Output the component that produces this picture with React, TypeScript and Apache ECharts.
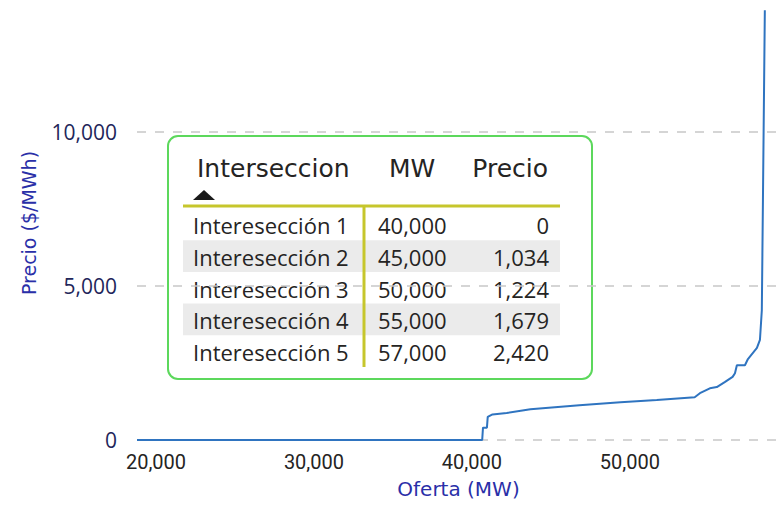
import React, { useEffect, useRef } from 'react';
import * as echarts from 'echarts';

// Supply curve (Oferta MW vs Precio $/MWh)
const supplyMW = [18800, 40650, 40700, 40950, 41000, 41300, 42200, 43700, 46800, 49400, 51700, 54100, 54430, 55060, 55500, 56000, 56500, 56650, 56770, 57280, 57470, 58040, 58230, 58350, 58420, 58540];
const supplyPrice = [0, 0, 400, 400, 750, 830, 880, 1000, 1130, 1230, 1300, 1390, 1520, 1680, 1720, 1880, 2050, 2170, 2430, 2430, 2630, 2990, 3250, 4220, 7800, 13960];

const xTickValues = [20000, 30000, 40000, 50000];

// Table
const tableHeaders = ['Interseccion', 'MW', 'Precio'];
const tableNames = ['Interesección 1', 'Interesección 2', 'Interesección 3', 'Interesección 4', 'Interesección 5'];
const tableMW = [40000, 45000, 50000, 55000, 57000];
const tablePrice = [0, 1034, 1224, 1679, 2420];

const fmt = (v: number) => v.toLocaleString('en-US');

export default function App() {
  const ref = useRef<HTMLDivElement>(null);
  useEffect(() => {
    document.body.style.margin = '0';
    const chart = echarts.init(ref.current!, null, { renderer: 'svg' });

    const rowTop = 208.5;
    const rowH = 31.7;
    const rowFont = { fontFamily: 'Open Sans', fontSize: 22, fill: '#252423' };
    const headFont = { fontFamily: 'DejaVu Sans', fontSize: 25, fill: '#252423' };

    const els: any[] = [];
    els.push({ type: 'rect', shape: { x: 168, y: 136, width: 424, height: 243, r: 10 }, style: { fill: '#ffffff', stroke: '#5cd85c', lineWidth: 2 } });
    tableNames.forEach((_, i) => {
      if (i % 2 === 1) {
        els.push({ type: 'rect', shape: { x: 183, y: rowTop + i * rowH, width: 377, height: rowH }, style: { fill: '#ebebeb' } });
      }
    });
    els.push({ type: 'text', x: 197, y: 168, style: { ...headFont, text: tableHeaders[0], align: 'left', verticalAlign: 'middle' } });
    els.push({ type: 'text', x: 389, y: 168, style: { ...headFont, text: tableHeaders[1], align: 'left', verticalAlign: 'middle' } });
    els.push({ type: 'text', x: 548, y: 168, style: { ...headFont, text: tableHeaders[2], align: 'right', verticalAlign: 'middle' } });
    els.push({ type: 'polygon', shape: { points: [[193, 200], [215, 200], [204, 190]] }, style: { fill: '#1a1a1a' } });
    els.push({ type: 'line', shape: { x1: 183, y1: 206, x2: 560, y2: 206 }, style: { stroke: '#c6c62c', lineWidth: 3 } });
    els.push({ type: 'line', shape: { x1: 364, y1: 206, x2: 364, y2: 367 }, style: { stroke: '#c6c62c', lineWidth: 3 } });
    tableNames.forEach((name, i) => {
      const cy = rowTop + i * rowH + rowH / 2 + 1;
      els.push({ type: 'text', x: 193, y: cy, style: { ...rowFont, text: name, align: 'left', verticalAlign: 'middle' } });
      els.push({ type: 'text', x: 378, y: cy, style: { ...rowFont, text: fmt(tableMW[i]), align: 'left', verticalAlign: 'middle' } });
      els.push({ type: 'text', x: 549, y: cy, style: { ...rowFont, text: fmt(tablePrice[i]), align: 'right', verticalAlign: 'middle' } });
    });

    chart.setOption({
      animation: false,
      backgroundColor: '#ffffff',
      grid: { left: 137, right: 3, top: 6, bottom: 69 },
      xAxis: {
        type: 'value',
        min: 18800,
        max: 59500,
        name: 'Oferta (MW)',
        nameLocation: 'middle',
        nameGap: 39,
        nameTextStyle: { fontFamily: 'DejaVu Sans', fontSize: 20, color: '#2a2fa8' },
        axisLine: { show: false },
        axisTick: { show: false },
        splitLine: { show: false },
        axisLabel: {
          customValues: xTickValues,
          formatter: (v: number) => fmt(v),
          fontFamily: 'Roboto',
          fontSize: 20,
          color: '#252423',
          margin: 12,
        },
      },
      yAxis: {
        type: 'value',
        min: 0,
        max: 14100,
        interval: 5000,
        name: 'Precio ($/MWh)',
        nameLocation: 'middle',
        nameGap: 99,
        nameTextStyle: { fontFamily: 'DejaVu Sans', fontSize: 19, color: '#2a2fa8' },
        axisLine: { show: false },
        axisTick: { show: false },
        splitLine: { show: true, showMaxLine: false, lineStyle: { color: '#c8c8c8', type: [9, 9], width: 1.5 } },
        axisLabel: {
          showMaxLabel: false,
          formatter: (v: number) => fmt(v),
          fontFamily: 'Open Sans',
          fontSize: 21,
          color: '#22265a',
          margin: 20,
        },
      },
      series: [
        {
          type: 'line',
          data: supplyMW.map((x, i) => [x, supplyPrice[i]]),
          showSymbol: false,
          symbol: 'none',
          lineStyle: { color: '#2f74c0', width: 2 },
          z: 2,
        },
      ],
      graphic: { elements: els },
    });
    return () => chart.dispose();
  }, []);
  return <div ref={ref} style={{ width: 783, height: 509 }} />;
}
